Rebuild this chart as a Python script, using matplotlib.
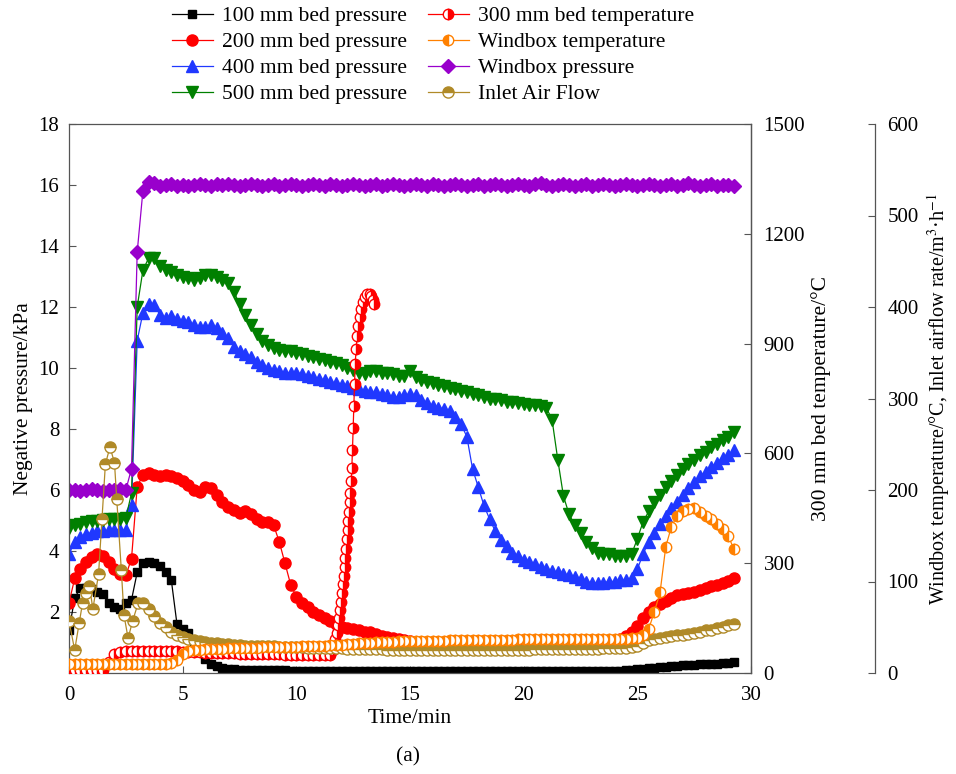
import numpy as np
import matplotlib
matplotlib.use("Agg")
import matplotlib.pyplot as plt

plt.rcParams['font.family'] = ['Liberation Serif', 'DejaVu Serif']
plt.rcParams['mathtext.fontset'] = 'stix'
plt.rcParams['font.size'] = 15

# time base (min), one reading every 15 s
t = np.arange(118) * 0.25

p100 = [1.40, 2.45, 2.80, 2.80,
        2.75, 2.65, 2.60, 2.30,
        2.15, 2.10, 2.30, 2.40,
        3.30, 3.60, 3.65, 3.60,
        3.50, 3.30, 3.05, 1.60,
        1.45, 1.30, 1.05, 0.70,
        0.45, 0.30, 0.22, 0.17,
        0.14, 0.12, 0.11, 0.10,
        0.10, 0.10, 0.09, 0.09,
        0.09, 0.09, 0.09, 0.08,
        0.08, 0.08, 0.08, 0.07,
        0.07, 0.07, 0.07, 0.07,
        0.07, 0.07, 0.07, 0.07,
        0.07, 0.07, 0.07, 0.07,
        0.07, 0.07, 0.07, 0.07,
        0.07, 0.07, 0.07, 0.07,
        0.07, 0.07, 0.07, 0.07,
        0.07, 0.07, 0.07, 0.07,
        0.07, 0.07, 0.07, 0.07,
        0.07, 0.07, 0.07, 0.07,
        0.07, 0.07, 0.07, 0.07,
        0.07, 0.07, 0.07, 0.07,
        0.07, 0.07, 0.08, 0.08,
        0.08, 0.08, 0.08, 0.08,
        0.08, 0.08, 0.09, 0.10,
        0.12, 0.13, 0.15, 0.17,
        0.20, 0.21, 0.23, 0.24,
        0.25, 0.26, 0.27, 0.28,
        0.30, 0.31, 0.31, 0.32,
        0.33, 0.35]

p200 = [2.30, 3.10, 3.40, 3.65,
        3.80, 3.90, 3.85, 3.65,
        3.40, 3.25, 3.20, 3.75,
        6.10, 6.50, 6.55, 6.50,
        6.45, 6.50, 6.45, 6.40,
        6.30, 6.15, 6.00, 5.95,
        6.10, 6.05, 5.85, 5.60,
        5.45, 5.35, 5.25, 5.30,
        5.20, 5.05, 4.95, 4.95,
        4.85, 4.30, 3.60, 2.90,
        2.50, 2.30, 2.15, 2.00,
        1.90, 1.80, 1.70, 1.60,
        1.52, 1.48, 1.43, 1.40,
        1.36, 1.33, 1.28, 1.22,
        1.18, 1.14, 1.10, 1.07,
        1.04, 1.02, 1.01, 1.00,
        1.00, 1.00, 1.00, 1.01,
        1.01, 1.02, 1.02, 1.02,
        1.03, 1.03, 1.03, 1.03,
        1.04, 1.04, 1.04, 1.04,
        1.04, 1.04, 1.04, 1.04,
        1.05, 1.05, 1.05, 1.05,
        1.05, 1.05, 1.05, 1.05,
        1.05, 1.05, 1.05, 1.05,
        1.05, 1.10, 1.20, 1.35,
        1.55, 1.80, 2.00, 2.15,
        2.25, 2.35, 2.45, 2.55,
        2.60, 2.62, 2.65, 2.72,
        2.80, 2.85, 2.90, 2.95,
        3.02, 3.10]

p400 = [3.90, 4.30, 4.45, 4.55,
        4.60, 4.65, 4.65, 4.68,
        4.70, 4.70, 4.70, 5.50,
        10.90, 11.80, 12.10, 12.05,
        11.75, 11.65, 11.70, 11.60,
        11.55, 11.50, 11.40, 11.35,
        11.35, 11.40, 11.30, 11.15,
        11.00, 10.70, 10.55, 10.45,
        10.35, 10.20, 10.10, 10.00,
        9.95, 9.90, 9.85, 9.85,
        9.85, 9.80, 9.75, 9.70,
        9.65, 9.60, 9.55, 9.50,
        9.45, 9.40, 9.35, 9.30,
        9.25, 9.20, 9.20, 9.15,
        9.10, 9.05, 9.05, 9.10,
        9.15, 9.10, 8.95, 8.85,
        8.75, 8.70, 8.65, 8.60,
        8.40, 8.15, 7.75, 6.70,
        6.10, 5.50, 5.05, 4.65,
        4.35, 4.15, 3.95, 3.82,
        3.72, 3.63, 3.56, 3.48,
        3.42, 3.35, 3.30, 3.25,
        3.20, 3.15, 3.08, 3.00,
        2.95, 2.95, 2.95, 3.00,
        3.00, 3.05, 3.05, 3.10,
        3.40, 3.90, 4.30, 4.60,
        4.90, 5.15, 5.40, 5.60,
        5.85, 6.05, 6.25, 6.45,
        6.60, 6.75, 6.90, 7.05,
        7.15, 7.30]

p500 = [4.75, 4.85, 4.90, 4.95,
        5.00, 5.00, 5.02, 5.05,
        5.05, 5.05, 5.08, 5.90,
        12.00, 13.20, 13.60, 13.60,
        13.35, 13.20, 13.15, 13.05,
        13.00, 12.95, 12.90, 12.95,
        13.05, 13.05, 13.00, 12.90,
        12.80, 12.50, 12.10, 11.75,
        11.40, 11.10, 10.90, 10.75,
        10.65, 10.60, 10.55, 10.55,
        10.50, 10.45, 10.40, 10.35,
        10.30, 10.25, 10.20, 10.15,
        10.10, 10.00, 9.95, 9.85,
        9.80, 9.90, 9.90, 9.85,
        9.85, 9.80, 9.75, 9.75,
        9.90, 9.70, 9.60, 9.55,
        9.50, 9.45, 9.40, 9.35,
        9.30, 9.25, 9.20, 9.15,
        9.10, 9.05, 9.00, 8.97,
        8.95, 8.90, 8.87, 8.85,
        8.82, 8.80, 8.78, 8.75,
        8.70, 8.30, 7.00, 5.80,
        5.20, 4.85, 4.60, 4.30,
        4.10, 3.95, 3.90, 3.90,
        3.85, 3.85, 3.85, 3.90,
        4.40, 4.95, 5.30, 5.60,
        5.85, 6.10, 6.30, 6.50,
        6.70, 6.85, 7.00, 7.15,
        7.25, 7.40, 7.50, 7.65,
        7.75, 7.90]

p_windbox = [6.00, 6.00, 5.98, 6.00,
             6.02, 6.00, 5.98, 6.00,
             6.00, 6.02, 6.00, 6.70,
             13.80, 15.80, 16.10, 16.05,
             15.97, 16.00, 16.02, 15.98,
             16.00, 15.97, 16.00, 16.02,
             16.00, 15.98, 16.03, 16.00,
             16.02, 16.00, 15.98, 16.00,
             16.03, 16.00, 15.97, 16.00,
             16.02, 15.98, 16.00, 16.03,
             16.00, 15.97, 16.00, 16.02,
             16.00, 15.98, 16.02, 16.00,
             15.97, 16.00, 16.03, 16.00,
             15.98, 16.00, 16.02, 15.98,
             16.00, 16.03, 16.00, 15.97,
             16.00, 16.02, 16.00, 15.98,
             16.02, 16.00, 15.97, 16.00,
             16.03, 16.00, 15.98, 16.00,
             16.02, 15.98, 16.00, 16.02,
             16.00, 15.97, 16.00, 16.03,
             16.00, 15.98, 16.02, 16.05,
             16.00, 15.97, 16.00, 16.02,
             16.00, 15.98, 16.00, 16.02,
             15.98, 16.00, 16.02, 16.00,
             15.97, 16.00, 16.02, 16.00,
             15.98, 16.00, 16.03, 16.00,
             15.97, 16.00, 16.02, 15.98,
             16.00, 16.05, 16.00, 15.98,
             16.00, 16.02, 15.98, 16.00,
             16.00, 15.98]

# windbox temperature, degC
T_windbox = [10, 10, 10, 10,
             10, 10, 10, 10,
             10, 10, 10, 10,
             10, 10, 10, 10,
             10, 10, 11, 14,
             21, 24, 25, 25.5,
             26, 26, 26.5, 26.5,
             27, 27, 27, 27.5,
             27.5, 27.5, 28, 28,
             28, 28, 28.5, 28.5,
             28.5, 29, 29, 29.5,
             29.5, 30, 30.5, 31,
             31, 31.5, 32, 32.5,
             33, 33, 33.5, 33.5,
             34, 34, 34.5, 34.5,
             35, 35, 35, 35.5,
             35.5, 35.5, 35.5, 36,
             36, 36, 36, 36,
             36.5, 36.5, 36.5, 36.5,
             36.5, 36.5, 36.5, 37,
             37, 37, 37, 37,
             37, 37, 37, 37,
             37, 37, 37, 37,
             37, 37, 37, 37,
             37, 37, 37.5, 38,
             38.5, 42, 48, 67,
             88, 138, 160, 172,
             177, 179, 180, 176,
             172, 168, 163, 157,
             150, 135]

# inlet air flow, m3/h (irregular readings during start-up, then the 15 s grid)
t_air_start = [0.0, 0.25, 0.45, 0.6, 0.75, 0.9, 1.05, 1.3, 1.45, 1.6,
               1.8, 2.0, 2.1, 2.3, 2.42, 2.6, 2.8, 3.05]
air_start = [57, 25, 55, 77, 87, 95, 70, 108, 168, 228,
             247, 230, 190, 113, 63, 38, 57, 77]
air_rest = [77, 70, 62,
            55, 50, 45, 42,
            39, 37, 36, 35,
            33.5, 33, 32.5, 32,
            31.5, 31, 30.5, 30,
            30, 29.5, 29.5, 29,
            29, 28.5, 28.5, 28,
            28, 28, 27.5, 27.5,
            27.5, 27, 27, 27,
            27, 26.5, 26.5, 26.5,
            26, 26, 26, 26,
            25.5, 25.5, 25.5, 25.5,
            25.5, 25, 25, 25,
            25, 25, 25, 25,
            25, 25, 25, 25,
            25, 25, 25.5, 25.5,
            25.5, 25.5, 25.5, 25.5,
            25.5, 25.5, 26, 26,
            26, 26, 26, 26,
            26, 26, 26.5, 26.5,
            26.5, 26.5, 27, 27,
            27, 27, 27.5, 28,
            30, 33, 36, 37,
            38, 39, 40, 41,
            42, 43, 44, 45,
            46.5, 47.5, 49, 50.5,
            52, 54]

# 300 mm bed temperature, degC (15 s grid up to 11.5 min, then the fast ignition rise)
T300_grid = [8, 8, 8, 8,
             8, 8, 9, 30,
             52, 58, 60, 60,
             60, 60, 60, 60,
             60, 60, 59, 59,
             58, 58, 57, 57,
             56, 56, 55, 55,
             54, 54, 53, 53,
             52, 52, 52, 51,
             51, 51, 50, 50,
             50, 50, 49, 49,
             49, 49, 50]
t_rise = [11.6, 11.66, 11.72, 11.77, 11.82, 11.87, 11.92, 11.97,
          12.01, 12.05, 12.09, 12.13, 12.16, 12.2, 12.23, 12.26, 12.29,
          12.32, 12.35, 12.38, 12.41, 12.44, 12.47,
          12.5, 12.53, 12.56, 12.59, 12.63, 12.67, 12.72, 12.78, 12.85, 12.93,
          13.02, 13.12, 13.22, 13.3, 13.37, 13.42]
T300_rise = [62, 75, 92, 110, 130, 150, 172, 195,
             218, 242, 266, 290, 315, 340, 365, 390, 415,
             440, 466, 492, 525, 560, 610,
             670, 730, 790, 845, 885, 920, 948, 972, 995, 1015,
             1028, 1035, 1036, 1030, 1020, 1008]

t_air = np.concatenate([t_air_start, t[13:]])
air = np.concatenate([air_start, air_rest])
t_300 = np.concatenate([t[:47], t_rise])
T300 = np.concatenate([T300_grid, T300_rise])

spine_col = '#555555'
fig = plt.figure(figsize=(9.56, 7.74), dpi=100)
ax = fig.add_axes([69 / 956, 101 / 774, 682 / 956, 549 / 774])
ax2 = ax.twinx()
ax3 = ax.twinx()

lw = 0.9
h1, = ax.plot(t, p100, '-s', color='black', ms=6, lw=lw, label='100 mm bed pressure')
h2, = ax.plot(t, p200, '-o', color='#ff0000', ms=8, lw=lw, label='200 mm bed pressure')
h3, = ax.plot(t, p400, '-^', color='#2038ff', ms=8, lw=lw, label='400 mm bed pressure')
h4, = ax.plot(t, p500, '-v', color='#008000', ms=8, lw=lw, label='500 mm bed pressure')
h7, = ax.plot(t, p_windbox, '-D', color='#9900cc', ms=7.5, lw=lw, label='Windbox pressure')

h5, = ax2.plot(t_300, T300, '-o', color='#ff0000', ms=7.5, lw=lw, fillstyle='right',
               markerfacecoloralt='white', mec='#ff0000', label='300 mm bed temperature')

h8, = ax3.plot(t_air, air, '-o', color='#b08a28', ms=8, lw=lw, fillstyle='top',
               markerfacecoloralt='white', mec='#b08a28', label='Inlet Air Flow')
h6, = ax3.plot(t, T_windbox, '-o', color='#ff8000', ms=7.5, lw=lw, fillstyle='left',
               markerfacecoloralt='white', mec='#ff8000', label='Windbox temperature')

ax.set_xlim(0, 30)
ax.set_ylim(0, 18)
ax.set_xticks(np.arange(0, 31, 5))
ax.set_yticks(np.arange(2, 19, 2))
ax2.set_ylim(0, 1500)
ax2.set_yticks(np.arange(0, 1501, 300))
ax3.set_ylim(0, 600)
ax3.set_yticks(np.arange(0, 601, 100))

ax3.spines['right'].set_position(('axes', (875 - 69) / 682))
for a in (ax2, ax3):
    for s in ('top', 'bottom', 'left'):
        a.spines[s].set_visible(False)
for a in (ax, ax2, ax3):
    for s in a.spines.values():
        s.set_color(spine_col)
        s.set_linewidth(0.9)

ax.tick_params(axis='both', direction='in', length=5, width=0.8, color=spine_col,
               labelsize=15)
ax.tick_params(axis='x', pad=9.5)
ax.tick_params(axis='y', pad=7)
ax2.tick_params(axis='y', direction='in', length=5, width=0.8, color=spine_col,
                labelsize=15, pad=9)
ax3.tick_params(axis='y', direction='in', length=5, width=0.8, color=spine_col,
                labelsize=15, pad=9)

ax.set_xlabel('Time/min', fontsize=15.5)
ax.set_ylabel('Negative pressure/kPa', fontsize=15.5)
ax2.set_ylabel('300 mm bed temperature/°C', fontsize=15.5)
ax3.set_ylabel('Windbox temperature/°C, Inlet airflow rate/m$^{3}$·h$^{-1}$', fontsize=14.5)
ax.xaxis.set_label_coords(0.5, -0.066)
ax.yaxis.set_label_coords(-0.053, 0.5)
ax2.yaxis.set_label_coords(1.088, 0.5)
ax3.yaxis.set_label_coords(1.255, 0.5)

handles = [h1, h2, h3, h4, h5, h6, h7, h8]
fig.legend(handles, [h.get_label() for h in handles], ncol=2, frameon=False,
           loc='upper left', bbox_to_anchor=(172 / 956, 1 - 6 / 774),
           fontsize=15.5, handlelength=1.9, handletextpad=0.4,
           columnspacing=1.0, labelspacing=0.28, borderpad=0, borderaxespad=0)

fig.text(408 / 956, 1 - 757 / 774, '(a)', ha='center', va='center', fontsize=15.5)

fig.savefig('out.png', dpi=100)
